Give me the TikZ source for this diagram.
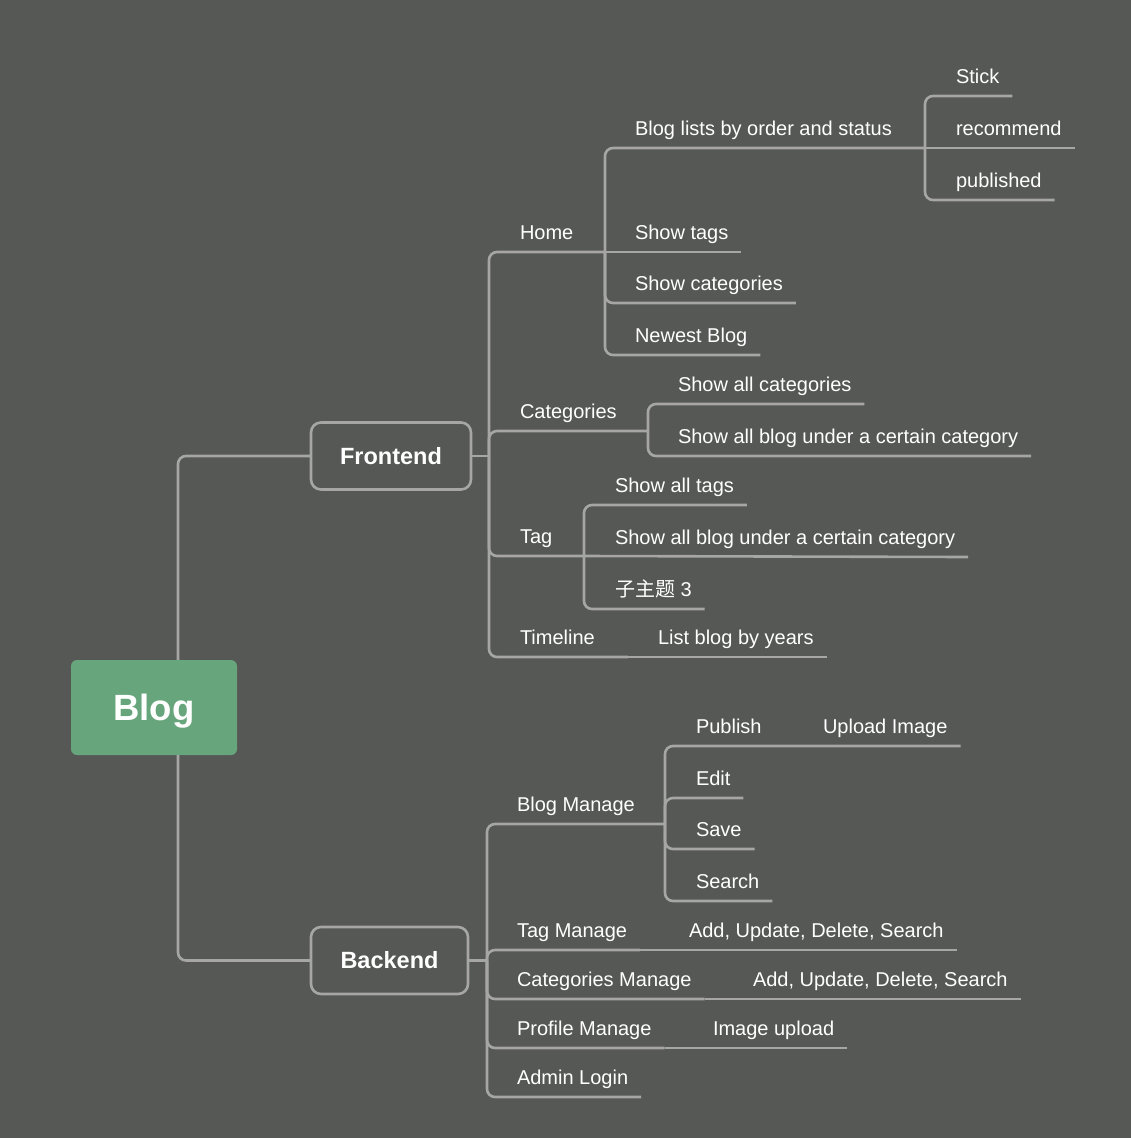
\documentclass[tikz,border=0pt]{standalone}
\usepackage{fontspec}
\setmainfont{Liberation Sans}
\newfontfamily\cjk{Noto Sans CJK SC}
\definecolor{bg}{RGB}{86, 88, 85}
\definecolor{ln}{RGB}{166, 166, 164}
\definecolor{gr}{RGB}{103, 166, 124}

\begin{document}
\begin{tikzpicture}[x=1pt, y=-1pt,
    link/.style={draw=ln, line width=2.6pt, rounded corners=8pt},
    topic/.style={anchor=south west, inner xsep=13pt, inner ysep=9pt, outer sep=0pt,
      text depth=4pt, text=white, font=\fontsize{20}{24}\selectfont},
    branch/.style={draw=ln, line width=2.6pt, fill=bg, rounded corners=10pt, outer sep=0pt,
      minimum height=67pt, text=white, font=\fontsize{23.5}{28}\selectfont\bfseries}]
      \fill[bg] (0,0) rectangle (1131,1138);
      \useasboundingbox (0,0) rectangle (1131,1138);

      \node[fill=gr, rounded corners=6pt, minimum width=166pt, minimum height=95pt, text depth=0pt,
        text=white, font=\fontsize{36.5}{44}\selectfont\bfseries] (blog) at (154,707.5) {Blog};
      \node[branch, minimum width=160pt] (fe) at (391,456)   {Frontend};
      \node[branch, minimum width=157pt] (be) at (389.5,960.5) {Backend};

      % frontend
      \node[topic] (home)      at (507,252) {Home};
      \node[topic] (blist)     at (622,148) {Blog lists by order and status};
      \node[topic] (stick)     at (943,96)  {Stick};
      \node[topic] (recommend) at (943,148) {recommend};
      \node[topic] (published) at (943,200) {published};
      \node[topic] (stags)     at (622,252) {Show tags};
      \node[topic] (scats)     at (622,303) {Show categories};
      \node[topic] (newest)    at (622,355) {Newest Blog};
      \node[topic] (cats)      at (507,431) {Categories};
      \node[topic] (allcats)   at (665,404) {Show all categories};
      \node[topic] (catblogs)  at (665,456) {Show all blog under a certain category};
      \node[topic] (tag)       at (507,556) {Tag};
      \node[topic] (alltags)   at (602,505) {Show all tags};
      \node[topic] (tagblogs)  at (602,557) {Show all blog under a certain category};
      \node[topic] (sub3)      at (602,609) {{\cjk 子主题} 3};
      \node[topic] (timeline)  at (507,657) {Timeline};
      \node[topic] (years)     at (645,657) {List blog by years};

      % backend
      \node[topic] (bm)     at (504,824)  {Blog Manage};
      \node[topic] (publish) at (683,746) {Publish};
      \node[topic] (upload) at (810,746)  {Upload Image};
      \node[topic] (edit)   at (683,798)  {Edit};
      \node[topic] (save)   at (683,849)  {Save};
      \node[topic] (search) at (683,901)  {Search};
      \node[topic] (tm)     at (504,950)  {Tag Manage};
      \node[topic] (tmops)  at (676,950)  {Add, Update, Delete, Search};
      \node[topic] (cm)     at (504,999)  {Categories Manage};
      \node[topic] (cmops)  at (740,999)  {Add, Update, Delete, Search};
      \node[topic] (pm)     at (504,1048) {Profile Manage};
      \node[topic] (pmimg)  at (700,1048) {Image upload};
      \node[topic] (login)  at (504,1097) {Admin Login};

      \coordinate (root-j)  at (178,707.5);
      \coordinate (fe-j)    at (489,456);
      \coordinate (home-j)  at (605,252);
      \coordinate (blist-j) at (925,148);
      \coordinate (cats-j)  at (648,431);
      \coordinate (tag-j)   at (584,556);
      \coordinate (tl-j)    at (628,657);
      \coordinate (be-j)    at (487,960.5);
      \coordinate (bm-j)    at (665,824);
      \coordinate (pub-j)   at (793,746);

      \draw[link] (blog.north -| root-j) |- (fe.west);
      \draw[link] (blog.south -| root-j) |- (be.west);

      \draw[link] (fe.east) -- (fe-j);
      \draw[link] (fe-j) |- (home-j);
      \draw[link] (fe-j) |- (cats-j);
      \draw[link] (fe-j) |- (tag-j);
      \draw[link] (fe-j) |- (tl-j);
      \draw[link] (home-j) |- (blist-j);
      \draw[link] (home-j) -- (stags.south east);
      \draw[link] (home-j) |- (scats.south east);
      \draw[link] (home-j) |- (newest.south east);
      \draw[link] (blist-j) |- (stick.south east);
      \draw[link] (blist-j) -- (recommend.south east);
      \draw[link] (blist-j) |- (published.south east);
      \draw[link] (cats-j) |- (allcats.south east);
      \draw[link] (cats-j) |- (catblogs.south east);
      \draw[link] (tag-j) |- (alltags.south east);
      \draw[link] (tag-j) -- (tagblogs.south east);
      \draw[link] (tag-j) |- (sub3.south east);
      \draw[link] (tl-j) -- (years.south east);

      \draw[link] (be.east) -- (be-j);
      \draw[link] (be-j) |- (bm-j);
      \draw[link] (be-j) |- (tm.south east);
      \draw[link] (be-j) |- (cm.south east);
      \draw[link] (be-j) |- (pm.south east);
      \draw[link] (be-j) |- (login.south east);
      \draw[link] (tm.south east) -- (tmops.south east);
      \draw[link] (cm.south east) -- (cmops.south east);
      \draw[link] (pm.south east) -- (pmimg.south east);
      \draw[link] (bm-j) |- (pub-j) -- (upload.south east);
      \draw[link] (bm-j) |- (edit.south east);
      \draw[link] (bm-j) |- (save.south east);
      \draw[link] (bm-j) |- (search.south east);
\end{tikzpicture}
\end{document}
